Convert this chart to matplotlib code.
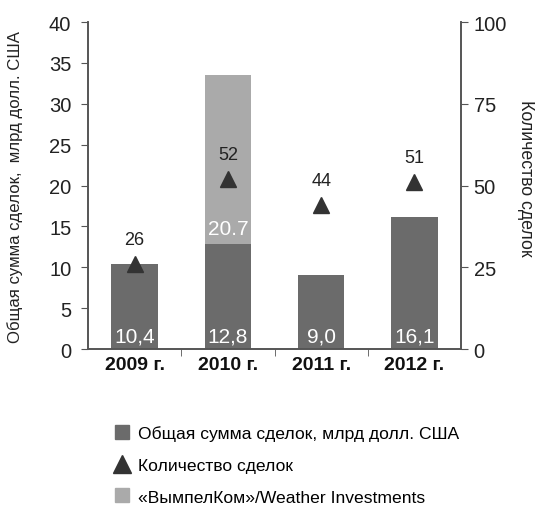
import numpy as np
import matplotlib
matplotlib.use("Agg")
import matplotlib.pyplot as plt
import matplotlib.lines as mlines

plt.rcParams['font.family'] = ['Liberation Sans', 'DejaVu Sans']

years = ["2009 г.", "2010 г.", "2011 г.", "2012 г."]
total_sum = [10.4, 12.8, 9.0, 16.1]
total_labels = ["10,4", "12,8", "9,0", "16,1"]
vimpelcom = [0.0, 20.7, 0.0, 0.0]
vimpelcom_labels = ["", "20.7", "", ""]
deal_count = [26, 52, 44, 51]

dark = "#6b6b6b"
light = "#aaaaaa"
marker_col = "#333333"
spine_col = "#555555"
text_col = "#222222"

fig = plt.figure(figsize=(5.35, 5.06), dpi=100)
ax = fig.add_axes([0.1645, 0.3083, 0.6972, 0.6462])
ax2 = ax.twinx()

x = np.arange(len(years)) + 0.5
ax.bar(x, total_sum, width=0.5, color=dark, zorder=2)
ax.bar(x, vimpelcom, width=0.5, bottom=total_sum, color=light, zorder=2)

# value labels inside the bars
for xi, lbl in zip(x, total_labels):
    ax.text(xi, 1.6, lbl, ha="center", va="center", color="white", fontsize=15, zorder=3)
for xi, base, lbl in zip(x, total_sum, vimpelcom_labels):
    if lbl:
        ax.text(xi, base + 2.0, lbl, ha="center", va="center", color="white", fontsize=15, zorder=3)

ax2.plot(x, deal_count, linestyle="none", marker="^", markersize=12, color=marker_col, zorder=4)
for xi, n in zip(x, deal_count):
    ax2.text(xi, n + 5.0, str(n), ha="center", va="bottom", color=text_col, fontsize=13)

ax.set_xlim(0, 4)
ax.set_ylim(0, 40)
ax.set_yticks(range(0, 41, 5))
ax2.set_ylim(0, 100)
ax2.set_yticks([0, 25, 50, 75, 100])

ax.set_xticks(x)
ax.set_xticklabels(years, fontsize=14, fontweight="bold", color="#111111")
ax.tick_params(axis="x", length=0, pad=5)
ax.set_xticks([1, 2, 3], minor=True)
ax.tick_params(axis="x", which="minor", length=5, color=spine_col, direction="out")
ax.tick_params(axis="y", labelsize=14.5, length=5, pad=7, color=spine_col, direction="out", labelcolor=text_col)
ax2.tick_params(axis="y", labelsize=14.5, length=5, pad=4, color=spine_col, direction="out", labelcolor=text_col)

for a in (ax, ax2):
    a.spines["top"].set_visible(False)
    for side in ("left", "right", "bottom"):
        a.spines[side].set_color(spine_col)
        a.spines[side].set_linewidth(1.2)

ax.set_ylabel("Общая сумма сделок,  млрд долл. США", fontsize=12.1, color=text_col, va="center")
ax.yaxis.set_label_coords(-0.196, 0.497)
ax2.set_ylabel("Количество сделок", fontsize=12.8, color=text_col, rotation=-90, va="center")
ax2.yaxis.set_label_coords(1.174, 0.524)

handles = [
    mlines.Line2D([], [], linestyle="none", marker="s", markersize=10, color=dark),
    mlines.Line2D([], [], linestyle="none", marker="^", markersize=13, color=marker_col),
    mlines.Line2D([], [], linestyle="none", marker="s", markersize=10, color=light),
]
labels = ["Общая сумма сделок, млрд долл. США", "Количество сделок", "«ВымпелКом»/Weather Investments"]
fig.legend(handles, labels, loc="upper left", bbox_to_anchor=(0.195, 0.172), frameon=False,
           fontsize=12.6, labelspacing=0.95, handletextpad=0.35, handlelength=1.2, borderaxespad=0)

fig.savefig("out.png", dpi=100)
